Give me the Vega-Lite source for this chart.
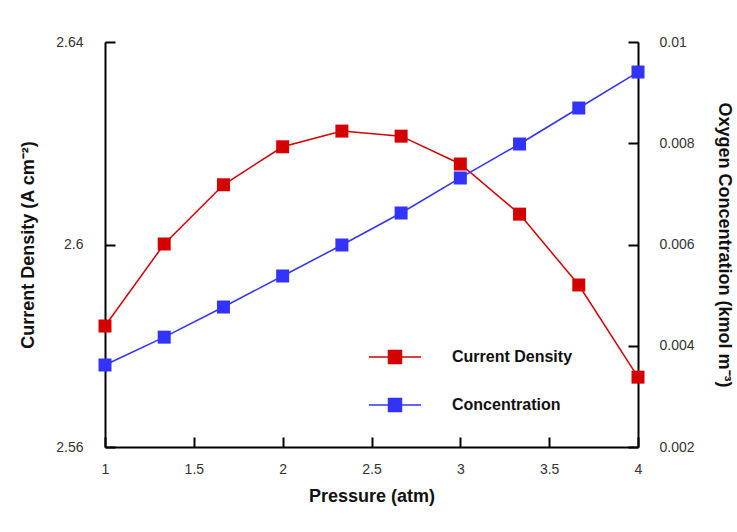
{
  "$schema": "https://vega.github.io/schema/vega-lite/v6.json",
  "width": 533,
  "height": 405,
  "autosize": "none",
  "padding": {"left": 105, "top": 42, "right": 99, "bottom": 85},
  "background": "white",
  "config": {
    "view": {"stroke": null},
    "font": "Liberation Sans",
    "axis": {
      "grid": false,
      "domainColor": "#000000",
      "domainWidth": 2,
      "tickColor": "#000000",
      "tickWidth": 2,
      "tickSize": -10,
      "labelFont": "Liberation Sans",
      "labelFontSize": 14,
      "labelColor": "#333333",
      "titleFont": "Liberation Sans",
      "titleFontSize": 18,
      "titleFontWeight": "bold",
      "titleColor": "#111111",
      "zindex": 1
    }
  },
  "data": {
    "values": [
      {"p": 1.0, "series": "Current Density", "value": 2.5839},
      {"p": 1.3333, "series": "Current Density", "value": 2.6001},
      {"p": 1.6667, "series": "Current Density", "value": 2.6118},
      {"p": 2.0, "series": "Current Density", "value": 2.6193},
      {"p": 2.3333, "series": "Current Density", "value": 2.6224},
      {"p": 2.6667, "series": "Current Density", "value": 2.6214},
      {"p": 3.0, "series": "Current Density", "value": 2.6159},
      {"p": 3.3333, "series": "Current Density", "value": 2.6060},
      {"p": 3.6667, "series": "Current Density", "value": 2.5920},
      {"p": 4.0, "series": "Current Density", "value": 2.5738},
      {"p": 1.0, "series": "Concentration", "value": 0.00362},
      {"p": 1.3333, "series": "Concentration", "value": 0.00417},
      {"p": 1.6667, "series": "Concentration", "value": 0.004765},
      {"p": 2.0, "series": "Concentration", "value": 0.005378},
      {"p": 2.3333, "series": "Concentration", "value": 0.00599},
      {"p": 2.6667, "series": "Concentration", "value": 0.006622},
      {"p": 3.0, "series": "Concentration", "value": 0.007314},
      {"p": 3.3333, "series": "Concentration", "value": 0.007985},
      {"p": 3.6667, "series": "Concentration", "value": 0.008696},
      {"p": 4.0, "series": "Concentration", "value": 0.009407}
    ]
  },
  "encoding": {
    "x": {
      "field": "p",
      "type": "quantitative",
      "scale": {"domain": [1, 4], "nice": false, "zero": false},
      "axis": {
        "title": "Pressure (atm)",
        "values": [1, 1.5, 2, 2.5, 3, 3.5, 4],
        "format": "~g",
        "labelPadding": 25,
        "titlePadding": 11,
        "labelFlush": false
      }
    },
    "color": {
      "field": "series",
      "type": "nominal",
      "scale": {"domain": ["Current Density", "Concentration"], "range": ["#d40000", "#3333ff"]},
      "legend": {
        "title": null,
        "orient": "none",
        "legendX": 263,
        "legendY": 288,
        "symbolType": "M-1,0L1,0M-0.25,-0.25H0.25V0.25H-0.25Z",
        "symbolSize": 2704,
        "symbolStrokeWidth": 1.5,
        "labelFont": "Liberation Sans",
        "labelFontSize": 16,
        "labelFontWeight": "bold",
        "labelColor": "#111111",
        "labelOffset": 30,
        "rowPadding": 11,
        "labelLimit": 300
      }
    }
  },
  "layer": [
    {
      "transform": [{"filter": "datum.series == 'Current Density'"}],
      "layer": [
        {"mark": {"type": "line", "strokeWidth": 1.5}, "encoding": {}},
        {"mark": {"type": "point", "shape": "square", "filled": true, "size": 169, "opacity": 1}, "encoding": {}}
      ],
      "encoding": {
        "y": {
          "field": "value",
          "type": "quantitative",
          "scale": {"domain": [2.56, 2.64], "nice": false, "zero": false},
          "axis": {
            "title": "Current Density (A cm⁻²)",
            "orient": "left",
            "values": [2.56, 2.6, 2.64],
            "format": "~g",
            "labelPadding": 32,
            "titlePadding": 18
          }
        }
      }
    },
    {
      "transform": [{"filter": "datum.series == 'Concentration'"}],
      "layer": [
        {"mark": {"type": "line", "strokeWidth": 1.5}, "encoding": {}},
        {"mark": {"type": "point", "shape": "square", "filled": true, "size": 169, "opacity": 1}, "encoding": {}}
      ],
      "encoding": {
        "y": {
          "field": "value",
          "type": "quantitative",
          "scale": {"domain": [0.002, 0.01], "nice": false, "zero": false},
          "axis": {
            "title": "Oxygen Concentration (kmol m⁻³)",
            "orient": "right",
            "values": [0.002, 0.004, 0.006, 0.008, 0.01],
            "format": "~g",
            "labelPadding": 31,
            "titlePadding": 20
          }
        }
      }
    }
  ],
  "resolve": {"scale": {"y": "independent"}}
}
